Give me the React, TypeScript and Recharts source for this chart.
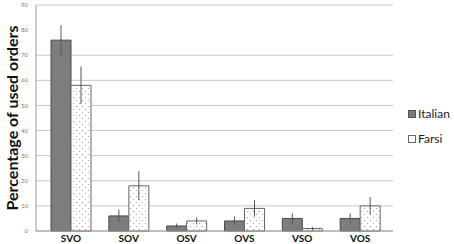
import { BarChart, Bar, XAxis, YAxis, CartesianGrid, ErrorBar } from 'recharts';

const ORDERS = ['SVO', 'SOV', 'OSV', 'OVS', 'VSO', 'VOS'];
const ITALIAN = [76, 6, 2, 4, 5, 5];
const ITALIAN_ERR = [6, 2.5, 1, 1.7, 2, 2];
const FARSI = [58, 18, 4, 9, 1, 10];
const FARSI_ERR = [7.5, 5.8, 1.4, 3.3, 0.7, 3.5];
const Y_TICKS = [0, 10, 20, 30, 40, 50, 60, 70, 80, 90];

const data = ORDERS.map((order, i) => ({
  order,
  italian: ITALIAN[i],
  italianErr: ITALIAN_ERR[i],
  farsi: FARSI[i],
  farsiErr: FARSI_ERR[i],
}));

const FONT = 'Lato, "Open Sans", sans-serif';

const LEGEND_ITEMS = [
  { name: 'Italian', fill: '#7a7a7a', stroke: '#555' },
  { name: 'Farsi', fill: '#fff', stroke: '#666' },
];

function LegendBox() {
  return (
    <div style={{ position: 'absolute', left: 408, top: 101, fontFamily: FONT, fontSize: 12, color: '#222' }}>
      {LEGEND_ITEMS.map((it) => (
        <div key={it.name} style={{ display: 'flex', alignItems: 'center', height: 25 }}>
          <span
            style={{
              width: 6, height: 6, marginRight: 2, display: 'inline-block',
              background: it.fill, border: `1px solid ${it.stroke}`,
            }}
          />
          {it.name}
        </div>
      ))}
    </div>
  );
}

export default function App() {
  return (
    <div style={{ position: 'absolute', left: 0, top: 0, width: 454, height: 244, background: '#fff' }}>
      <BarChart
        width={454}
        height={244}
        data={data}
        margin={{ top: 5, right: 61, bottom: 0, left: 14 }}
        barGap={0}
        barSize={20}
      >
        <defs>
          <pattern id="hatch" width="3" height="3" patternUnits="userSpaceOnUse" patternTransform="rotate(45)">
            <rect width="3" height="3" fill="#808080" />
            <line x1="0" y1="0" x2="0" y2="3" stroke="#6e6e6e" strokeWidth="1" />
          </pattern>
          <pattern id="dots" width="6" height="6" patternUnits="userSpaceOnUse">
            <rect width="6" height="6" fill="#fff" />
            <circle cx="1.5" cy="1.5" r="0.6" fill="#999" />
            <circle cx="4.5" cy="4.5" r="0.6" fill="#999" />
          </pattern>
        </defs>
        <CartesianGrid vertical={false} stroke="#c8c8c8" />
        <XAxis
          dataKey="order"
          height={13}
          padding={{ left: 6, right: 4 }}
          axisLine={{ stroke: '#999' }}
          tickLine={false}
          tickSize={0}
          tick={{ fontSize: 10, fontWeight: 700, fill: '#111', fontFamily: FONT }}
          tickMargin={4}
          interval={0}
        />
        <YAxis
          width={22}
          domain={[0, 90]}
          ticks={Y_TICKS}
          axisLine={{ stroke: '#999' }}
          tickLine={false}
          tick={{ fontSize: 6, fill: '#777', fontFamily: FONT }}
          label={{
            value: 'Percentage of used orders',
            angle: -90,
            position: 'left',
            offset: 2,
            style: { fontSize: 16, fontWeight: 700, fill: '#111', fontFamily: FONT, textAnchor: 'middle' },
          }}
        />
        <Bar dataKey="italian" name="Italian" fill="url(#hatch)" stroke="#4a4a4a" strokeWidth={1} isAnimationActive={false}>
          <ErrorBar dataKey="italianErr" width={0} stroke="#555" strokeWidth={1} />
        </Bar>
        <Bar dataKey="farsi" name="Farsi" fill="url(#dots)" stroke="#666" strokeWidth={1} isAnimationActive={false}>
          <ErrorBar dataKey="farsiErr" width={0} stroke="#555" strokeWidth={1} />
        </Bar>
      </BarChart>
      <LegendBox />
    </div>
  );
}
